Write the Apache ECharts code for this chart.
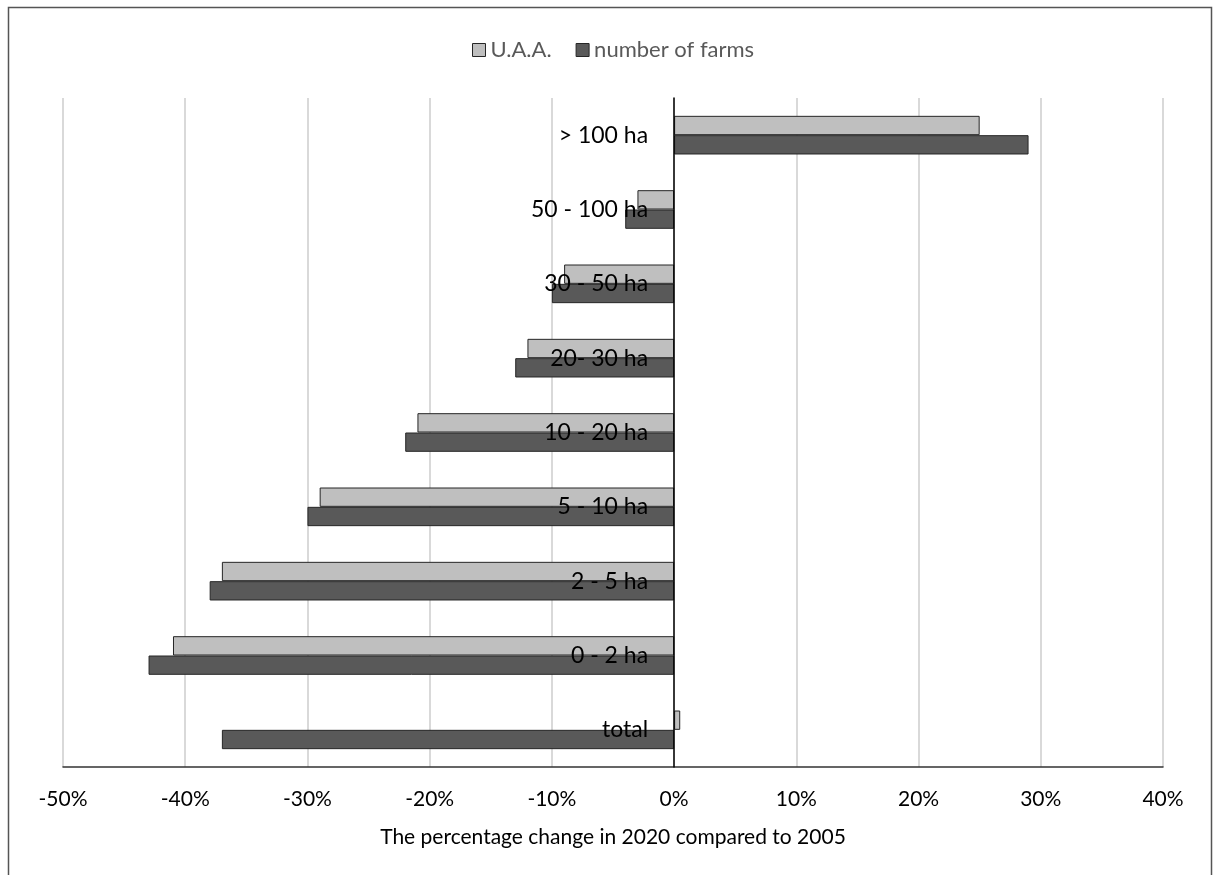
<!DOCTYPE html>
<html>
<head>
<meta charset="UTF-8">
<title>Farm structure change</title>
<script src="https://cdn.jsdelivr.net/npm/echarts@6/dist/echarts.min.js"></script>
<style>
html,body{margin:0;padding:0;background:#fff;}
#chart{width:1213px;height:875px;}
</style>
</head>
<body>
<div id="chart"></div>
<script>
var categories = ['> 100 ha', '50 - 100 ha', '30 - 50 ha', '20- 30 ha', '10 - 20 ha', '5 - 10 ha', '2 - 5 ha', '0 - 2 ha', 'total'];
var uaa = [25, -3, -9, -12, -21, -29, -37, -41, 0.5];
var farms = [29, -4, -10, -13, -22, -30, -38, -43, -37];
var xTicks = {min: -50, max: 40, step: 10};

var chart = echarts.init(document.getElementById('chart'));
var font = 'Lato, "Open Sans", sans-serif';

// plot area
var gridLeft = 63, gridRight = 50;
var plotWidth = 1213 - gridLeft - gridRight;
// move the category axis (line + labels) onto the 0% position
var zeroShift = plotWidth * (0 - xTicks.min) / (xTicks.max - xTicks.min);

chart.setOption({
    animation: false,
    textStyle: {fontFamily: font},
    graphic: [{
        type: 'rect',
        shape: {x: 8.5, y: 7.5, width: 1203, height: 900},
        style: {fill: 'none', stroke: '#555', lineWidth: 1.5},
        silent: true
    }],
    legend: {
        top: 34,
        left: 467,
        icon: 'rect',
        itemWidth: 13,
        itemHeight: 13,
        itemGap: 24,
        itemStyle: {borderColor: '#262626', borderWidth: 1},
        textStyle: {color: '#595959', fontSize: 22, fontFamily: font},
        data: ['U.A.A.', 'number of farms']
    },
    grid: {left: gridLeft, right: gridRight, top: 98, bottom: 108, outerBoundsMode: 'none'},
    xAxis: {
        type: 'value',
        min: xTicks.min,
        max: xTicks.max,
        interval: xTicks.step,
        name: 'The percentage change in 2020 compared to 2005',
        nameLocation: 'middle',
        nameGap: 60,
        nameTextStyle: {color: '#000', fontSize: 21, fontFamily: font},
        axisLine: {show: true, lineStyle: {color: '#333', width: 1.5}},
        axisTick: {show: false},
        axisLabel: {color: '#000', fontSize: 21, margin: 22, formatter: '{value}%', fontFamily: font},
        splitLine: {show: true, lineStyle: {color: '#d9d9d9', width: 2}}
    },
    yAxis: {
        type: 'category',
        inverse: true,
        data: categories,
        z: 10,
        offset: -zeroShift,
        axisLine: {show: true, onZero: false, lineStyle: {color: '#000', width: 1.5}},
        axisTick: {show: false},
        axisLabel: {color: '#000', fontSize: 23, margin: 26, fontFamily: font}
    },
    series: [
        {
            name: 'U.A.A.',
            type: 'bar',
            data: uaa,
            barGap: '0%',
            barCategoryGap: '48%',
            itemStyle: {color: '#bfbfbf', borderColor: '#262626', borderWidth: 1}
        },
        {
            name: 'number of farms',
            type: 'bar',
            data: farms,
            itemStyle: {color: '#595959', borderColor: '#262626', borderWidth: 1}
        }
    ]
});
</script>
</body>
</html>
